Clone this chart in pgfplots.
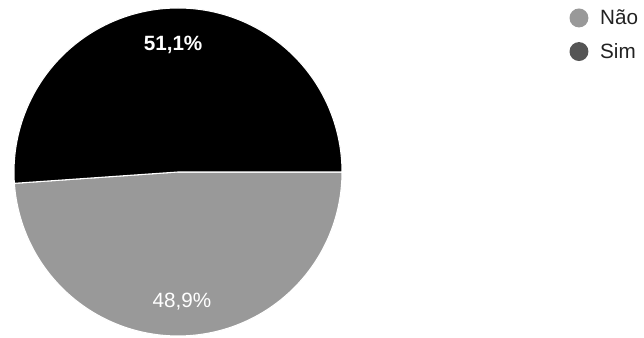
\documentclass[border=0pt]{standalone}
\usepackage{pgfplots}
\pgfplotsset{compat=1.18}
\usepackage{fontspec}
\setmainfont{Liberation Sans}
\definecolor{pieGray}{HTML}{999999}
\definecolor{legSim}{HTML}{555555}
\definecolor{txt}{HTML}{222222}
\begin{document}
\begin{tikzpicture}
\path (0,0) rectangle (483pt,253.5pt);
\pgfmathsetmacro{\vNao}{48.9}
\pgfmathsetmacro{\vSim}{51.1}
\pgfmathsetmacro{\aNao}{\vNao*3.6}
\begin{axis}[
  at={(133.5pt,124.5pt)}, anchor=center,
  scale only axis, width=246pt, height=246pt,
  xmin=-1, xmax=1, ymin=-1, ymax=1,
  hide axis, clip=false,
  legend style={draw=none, fill=none, inner sep=0pt, outer sep=0pt,
    at={(axis description cs:1.6936,0.9985)}, anchor=north west,
    font=\fontsize{15.5}{18}\selectfont, text=txt,
    row sep=11pt, column sep=0pt,
    nodes={inner sep=0pt, outer sep=0pt}},
  legend cell align=left,
  legend image code/.code={\path[#1] (7.1pt,0pt) circle (7.1pt); \path (0pt,0pt) (23pt,0pt);},
]
\addplot[forget plot, fill=pieGray, draw=white, line width=0.8pt, domain=-\aNao:0, samples=181, variable=\t]
  ({cos(t)},{sin(t)}) -- (axis cs:0,0) -- cycle;
\addplot[forget plot, fill=black, draw=white, line width=0.8pt, domain=-360:-\aNao, samples=181, variable=\t]
  ({cos(t)},{sin(t)}) -- (axis cs:0,0) -- cycle;
\node[text=white, font=\fontsize{15.5}{18}\selectfont\bfseries] at (axis cs:-0.03,0.774) {51,1\%};
\node[text=white, font=\fontsize{15.5}{18}\selectfont] at (axis cs:0.024,-0.793) {48,9\%};
\addlegendimage{fill=pieGray, draw=none}
\addlegendentry{Não}
\addlegendimage{fill=legSim, draw=none}
\addlegendentry{Sim}
\end{axis}
\end{tikzpicture}
\end{document}
